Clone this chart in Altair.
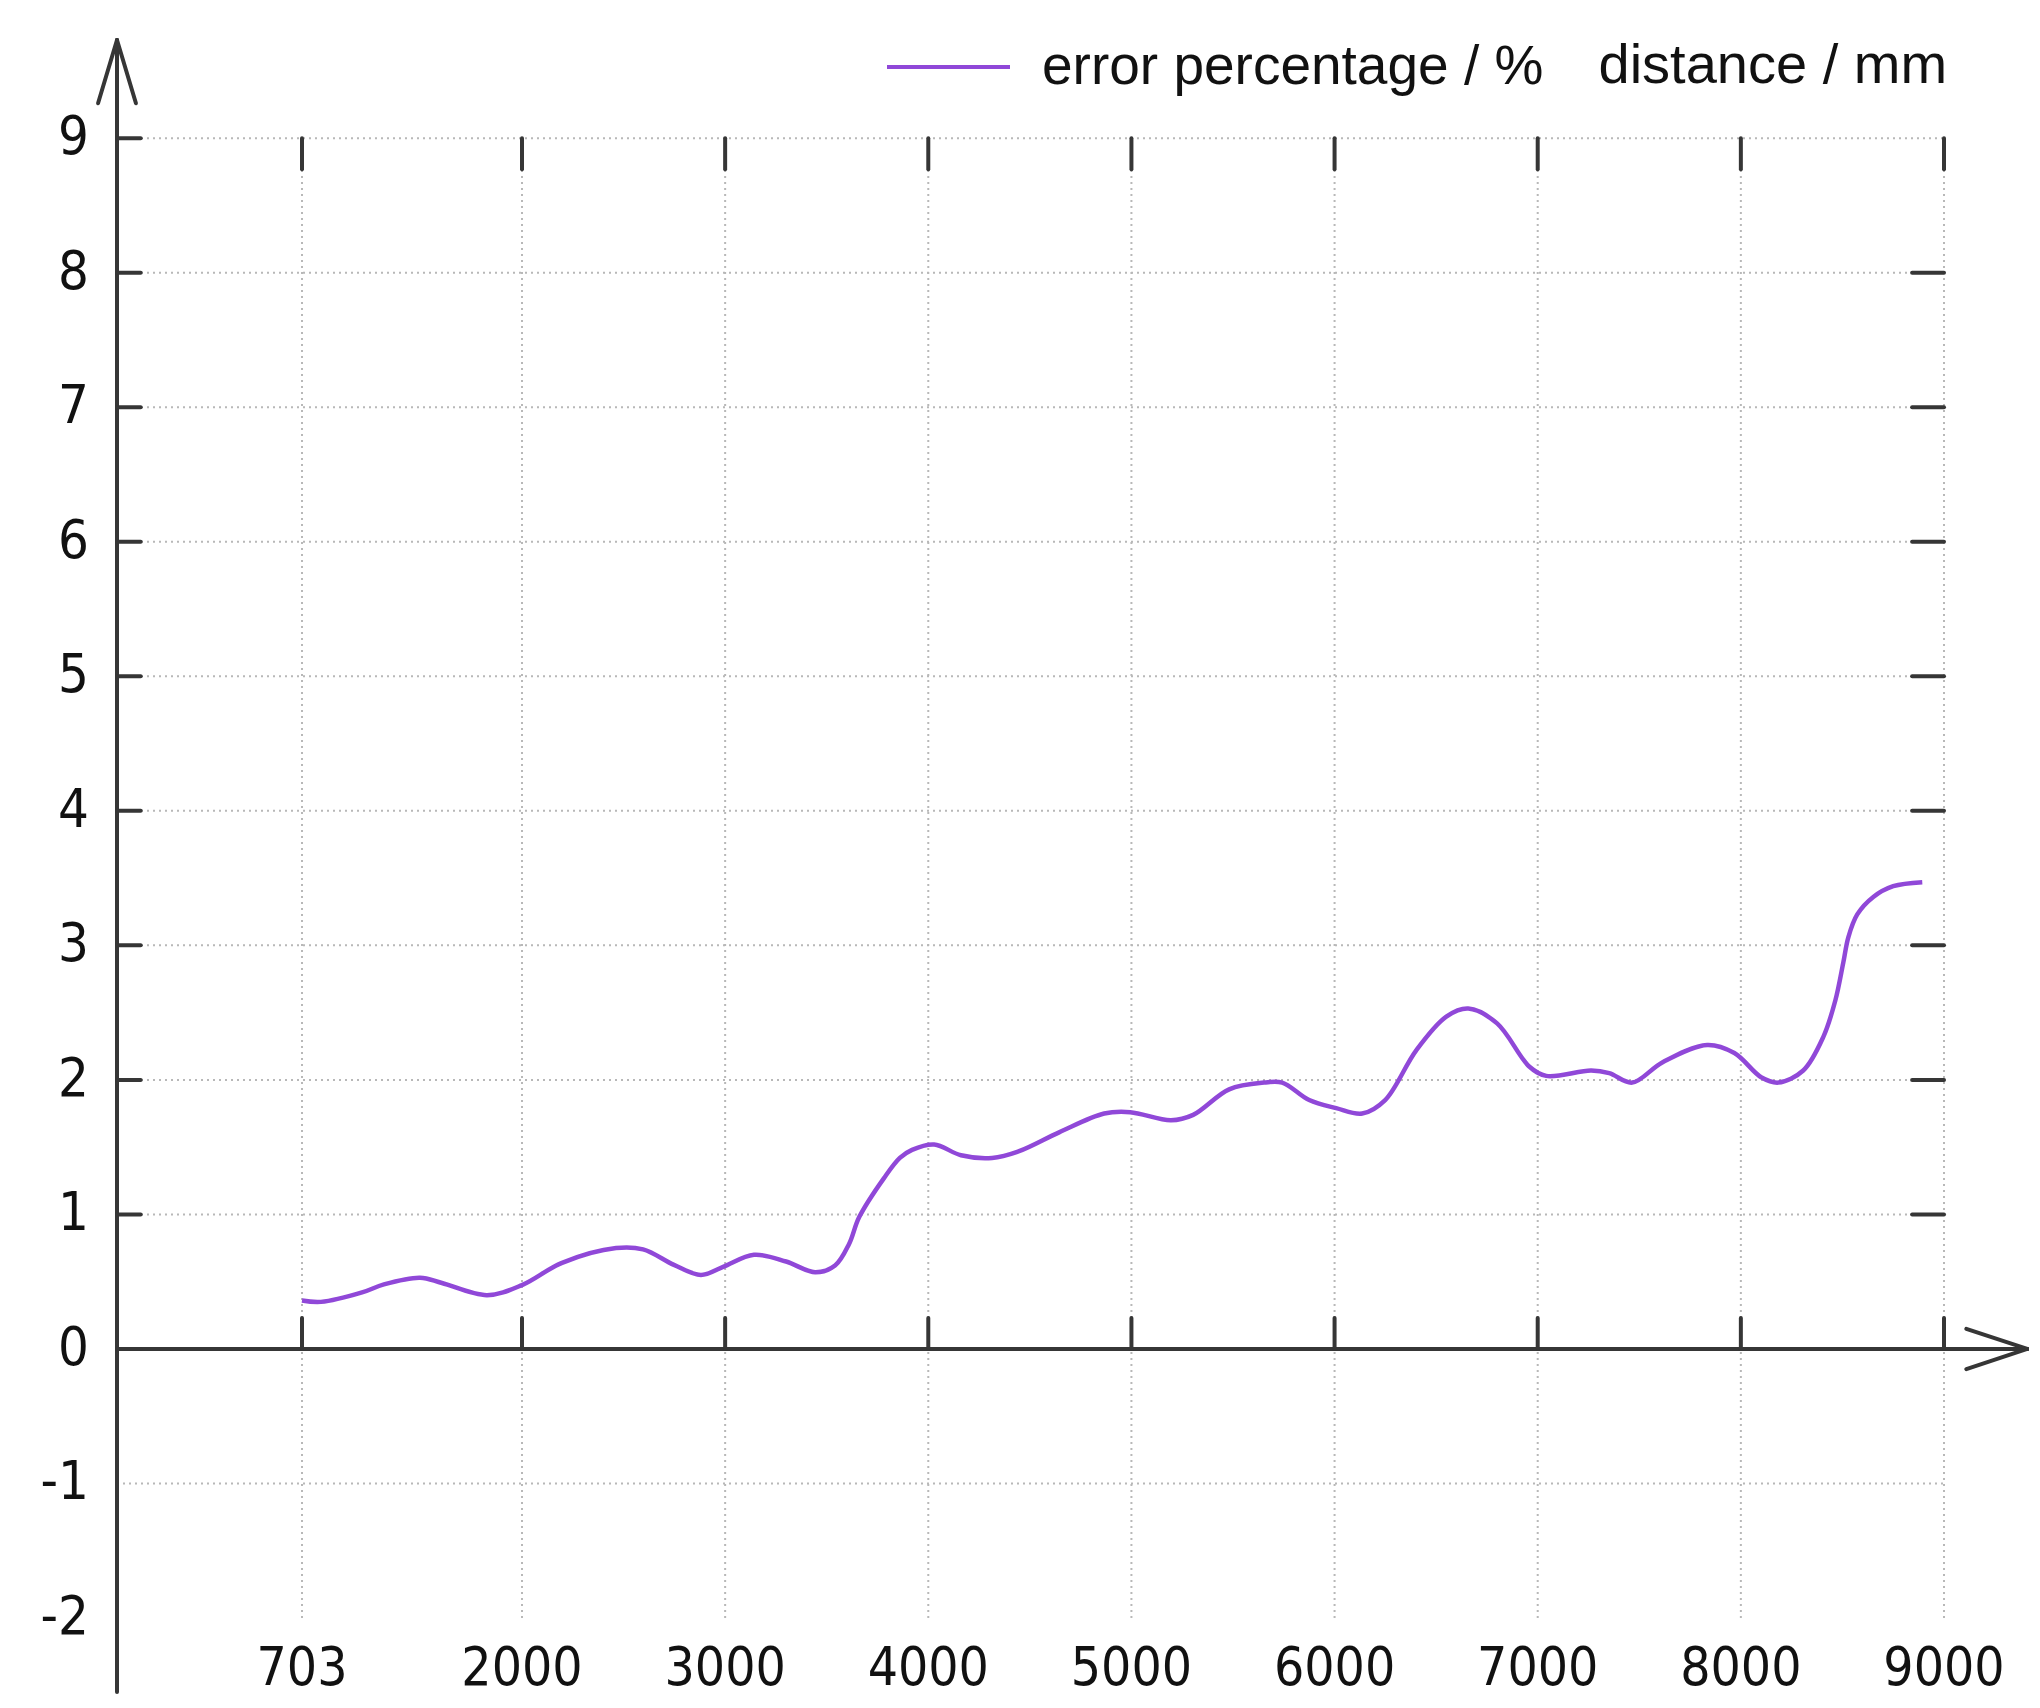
import altair as alt
import pandas as pd

# ---------------- data ----------------
distance_mm = [703, 815, 1057, 1186, 1399, 1528, 1794, 2000, 2197, 2463, 2596, 2748,
               2881, 2990, 3142, 3300, 3443, 3541, 3610, 3660, 3782, 3860, 3920, 4029,
               4161, 4314, 4447, 4644, 4866, 4994, 5195, 5304, 5481, 5653, 5742, 5875,
               6008, 6136, 6249, 6402, 6550, 6658, 6800, 6958, 7042, 7263, 7352, 7465,
               7613, 7834, 7968, 8100, 8184, 8307, 8406, 8465, 8504, 8529, 8573, 8652,
               8750, 8893]
error_pct = [0.36, 0.35, 0.42, 0.48, 0.53, 0.49, 0.40, 0.475, 0.64, 0.75, 0.74, 0.625,
             0.55, 0.61, 0.70, 0.65, 0.57, 0.62, 0.78, 0.98, 1.27, 1.42, 1.48, 1.52,
             1.44, 1.42, 1.47, 1.61, 1.75, 1.76, 1.70, 1.74, 1.93, 1.98, 1.98, 1.85,
             1.79, 1.75, 1.85, 2.22, 2.47, 2.53, 2.42, 2.10, 2.03, 2.07, 2.05, 1.98,
             2.13, 2.26, 2.20, 2.02, 1.98, 2.07, 2.32, 2.59, 2.87, 3.06, 3.23, 3.36,
             3.44, 3.47]
series_name = "error percentage / %"
x_title = "distance / mm"
x_tick_values = [703, 2000, 3000, 4000, 5000, 6000, 7000, 8000, 9000]
y_tick_values = [-2, -1, 0, 1, 2, 3, 4, 5, 6, 7, 8, 9]
y_grid_values = [-1, 1, 2, 3, 4, 5, 6, 7, 8, 9]
y_left_tick_values = [0, 1, 2, 3, 4, 5, 6, 7, 8, 9]
y_right_tick_values = [1, 2, 3, 4, 5, 6, 7, 8]

# ---------------- layout / scale constants ----------------
W, H = 1912, 1652
X_DOMAIN = [0, 703, 2000, 9000]
X_RANGE = [0, 185, 405, 1827]
Y_DOMAIN = [-2.55, 9.73]
X_END = 9410          # x-axis arrow tip
Y_TOP, Y_BOT = 9.73, -2.55
GRID_X_END = 9000
GRID_Y_TOP, GRID_Y_BOT = 9, -2
TICK_V = 0.23         # vertical tick length (y units)
TICK_R = 157          # right tick length (mm, last segment)
TICK_L = 90           # left tick length (mm, first segment)
ARW_YX, ARW_YL = 72, 0.47     # y arrow half width (mm), length (units)
ARW_XL, ARW_XH = 300, 0.15    # x arrow length (mm), half height (units)
AXIS_COLOR = "#363636"
LINE_COLOR = "#9048d8"
LABEL_FONT = "DejaVu Sans Condensed, DejaVu Sans"

xs = alt.Scale(domain=X_DOMAIN, range=X_RANGE, nice=False, zero=False)
ys = alt.Scale(domain=Y_DOMAIN, nice=False, zero=False)

x_axis = alt.Axis(orient="top", title=x_title, labels=False, ticks=False, domain=False,
                  grid=False, titleX=1481, titleY=25, titleAlign="left",
                  titleBaseline="middle", titleAngle=0, titleFont="Liberation Sans",
                  titleFontSize=56, titleFontWeight="normal", titleColor="#111111")

# ---------------- structural segments ----------------
grid_rows = []
for v in y_grid_values:
    grid_rows.append(dict(x=0, x2=GRID_X_END, y=v, y2=v))
for v in x_tick_values:
    grid_rows.append(dict(x=v, x2=v, y=GRID_Y_BOT, y2=GRID_Y_TOP))
grid_df = pd.DataFrame(grid_rows)

seg = []
seg.append(dict(x=0, x2=0, y=Y_BOT, y2=Y_TOP))
seg.append(dict(x=0, x2=X_END, y=0, y2=0))
seg.append(dict(x=0, x2=-ARW_YX, y=Y_TOP, y2=Y_TOP - ARW_YL))
seg.append(dict(x=0, x2=ARW_YX, y=Y_TOP, y2=Y_TOP - ARW_YL))
seg.append(dict(x=X_END, x2=X_END - ARW_XL, y=0, y2=ARW_XH))
seg.append(dict(x=X_END, x2=X_END - ARW_XL, y=0, y2=-ARW_XH))
for v in x_tick_values:
    seg.append(dict(x=v, x2=v, y=GRID_Y_TOP, y2=GRID_Y_TOP - TICK_V))
    seg.append(dict(x=v, x2=v, y=0, y2=TICK_V))
for v in y_right_tick_values:
    seg.append(dict(x=GRID_X_END, x2=GRID_X_END - TICK_R, y=v, y2=v))
for v in y_left_tick_values:
    seg.append(dict(x=0, x2=TICK_L, y=v, y2=v))
seg_df = pd.DataFrame(seg)


def rule_enc():
    return dict(
        x=alt.X("x:Q", scale=xs, axis=x_axis),
        x2="x2:Q",
        y=alt.Y("y:Q", scale=ys, axis=None),
        y2="y2:Q",
    )


grid = alt.Chart(grid_df).mark_rule(color="#b8b8b8", strokeWidth=2,
                                    strokeDash=[2, 4]).encode(**rule_enc())
axes = alt.Chart(seg_df).mark_rule(color=AXIS_COLOR, strokeWidth=4,
                                   strokeCap="round").encode(**rule_enc())

line_df = pd.DataFrame({"distance": distance_mm, "error": error_pct,
                        "series": [series_name] * len(distance_mm)})
line = alt.Chart(line_df).mark_line(interpolate="catmull-rom", strokeWidth=4.5).encode(
    x=alt.X("distance:Q", scale=xs, axis=x_axis),
    y=alt.Y("error:Q", scale=ys, axis=None),
    color=alt.Color("series:N", scale=alt.Scale(range=[LINE_COLOR]),
                    legend=alt.Legend(orient="none", legendX=768, legendY=-36.5,
                                      title=None, symbolType="stroke",
                                      symbolSize=15129, symbolStrokeWidth=4,
                                      labelFont="Liberation Sans", labelFontSize=55,
                                      labelColor="#111111", labelOffset=30,
                                      padding=0, labelLimit=0)),
)

ylab_df = pd.DataFrame({"v": y_tick_values, "x0": [0] * len(y_tick_values),
                        "t": [str(v) for v in y_tick_values]})
ylab = alt.Chart(ylab_df).mark_text(align="right", baseline="middle", dx=-28,
                                    font=LABEL_FONT, fontSize=54,
                                    color="#111111").encode(
    x=alt.X("x0:Q", scale=xs, axis=x_axis),
    y=alt.Y("v:Q", scale=ys, axis=None),
    text="t:N",
)

xlab_df = pd.DataFrame({"v": x_tick_values, "y0": [-2.38] * len(x_tick_values),
                        "t": [str(v) for v in x_tick_values]})
xlab = alt.Chart(xlab_df).mark_text(align="center", baseline="middle",
                                    font=LABEL_FONT, fontSize=53,
                                    color="#111111").encode(
    x=alt.X("v:Q", scale=xs, axis=x_axis),
    y=alt.Y("y0:Q", scale=ys, axis=None),
    text="t:N",
)

chart = alt.layer(grid, axes, line, ylab, xlab).properties(
    width=W, height=H,
    autosize=alt.AutoSizeParams(type="none"),
    padding={"left": 109, "top": 32, "right": 0, "bottom": 4},
).configure_view(stroke=None)

chart.save("out.html", embed_options={"renderer": "svg", "actions": False})
